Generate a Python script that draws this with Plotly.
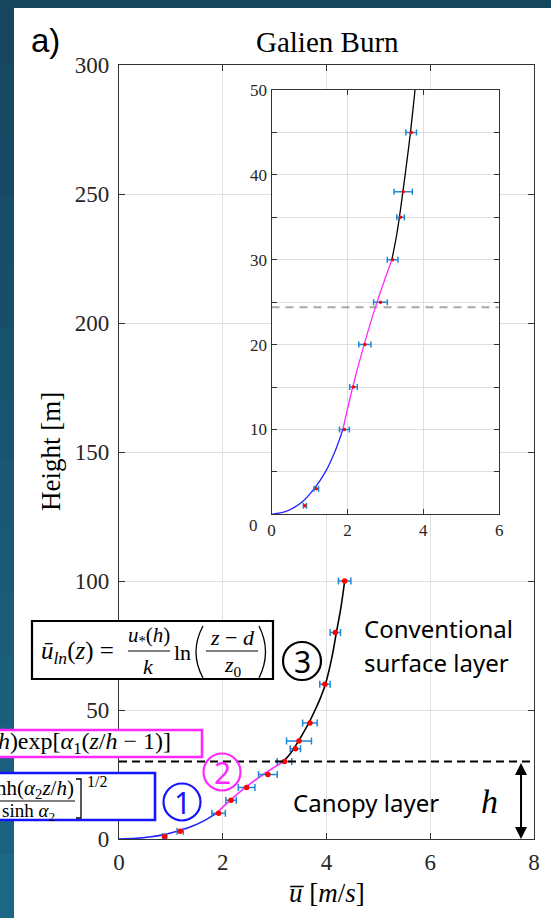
import plotly.graph_objects as go

# ---------------- data ----------------
obs_z = [1, 3, 10, 15, 20, 25, 30, 35, 38, 45, 60, 80, 100]
obs_u = [0.88, 1.18, 1.92, 2.16, 2.46, 2.87, 3.19, 3.40, 3.47, 3.68, 3.97, 4.17, 4.35]
obs_err = [0.04, 0.06, 0.13, 0.10, 0.16, 0.18, 0.14, 0.10, 0.24, 0.14, 0.10, 0.10, 0.12]

blue_z = [0, 0.25, 0.75, 1.5, 3, 5, 7.5, 10]
blue_u = [0, 0.32, 0.58, 0.82, 1.12, 1.42, 1.68, 1.88]
mag_z = [10, 15, 20, 25, 30]
mag_u = [1.88, 2.14, 2.44, 2.78, 3.17]
blk_z = [30, 33, 36, 40, 45, 50, 55, 60, 70, 80, 90, 100]
blk_u = [3.17, 3.30, 3.40, 3.52, 3.66, 3.78, 3.89, 3.98, 4.10, 4.19, 4.28, 4.35]

h_canopy = 30        # canopy height h
d_disp = 24.4        # displacement height shown in inset
arrow_u = 7.75

main_xticks = [0, 2, 4, 6, 8]
main_yticks = [0, 50, 100, 150, 200, 250, 300]
inset_xticks = [0, 2, 4, 6]
inset_yticks = [10, 20, 30, 40, 50]

# ---------------- geometry helpers ----------------
W, H = 551, 918
ML, MR, MT, MB = 119, 17, 65, 79
PW, PH = W - ML - MR, H - MT - MB


def px(x):
    return (x - ML) / PW


def py(y):
    return (H - MB - y) / PH


SERIF = "Liberation Serif, Times New Roman, serif"
SANS = "Noto Sans, Open Sans, sans-serif"
BLUE = "rgb(35,35,255)"
MAG = "rgb(255,40,255)"
EBAR = "rgb(30,136,214)"
TICKC = "#262626"

fig = go.Figure()

# main axes traces
for zs, us, col in [(blue_z, blue_u, BLUE), (mag_z, mag_u, MAG), (blk_z, blk_u, "black")]:
    fig.add_trace(go.Scatter(x=us, y=zs, mode="lines", line=dict(color=col, width=1.6, shape="spline"),
                             xaxis="x", yaxis="y", showlegend=False, hoverinfo="skip"))
fig.add_trace(go.Scatter(x=obs_u, y=obs_z, mode="markers",
                         marker=dict(color="red", size=5.5),
                         error_x=dict(type="data", array=obs_err, color=EBAR, thickness=1.5, width=3.5),
                         xaxis="x", yaxis="y", showlegend=False))
fig.add_trace(go.Scatter(x=[0, 8], y=[h_canopy, h_canopy], mode="lines",
                         line=dict(color="black", width=2, dash="8px,5px"),
                         xaxis="x", yaxis="y", showlegend=False, hoverinfo="skip"))

# inset traces
fig.add_trace(go.Scatter(x=[0, 6], y=[d_disp, d_disp], mode="lines",
                         line=dict(color="#a8a8a8", width=2, dash="8px,6px"),
                         xaxis="x2", yaxis="y2", showlegend=False, hoverinfo="skip"))
for zs, us, col in [(blue_z, blue_u, BLUE), (mag_z, mag_u, MAG), (blk_z, blk_u, "black")]:
    fig.add_trace(go.Scatter(x=us, y=zs, mode="lines", line=dict(color=col, width=1.3, shape="spline"),
                             xaxis="x2", yaxis="y2", showlegend=False, hoverinfo="skip"))
fig.add_trace(go.Scatter(x=obs_u, y=obs_z, mode="markers",
                         marker=dict(color="red", size=3.5),
                         error_x=dict(type="data", array=obs_err, color=EBAR, thickness=1.5, width=3),
                         xaxis="x2", yaxis="y2", showlegend=False))

axis_common = dict(showline=True, linecolor="#333333", linewidth=1.3, mirror="ticks",
                   ticks="inside", tickcolor="#333333", showgrid=True, gridcolor="#e0e0e0",
                   gridwidth=1, zeroline=False, tickfont=dict(family=SERIF, size=23, color=TICKC))

inset_common = dict(showline=True, linecolor="#333333", linewidth=1.3, mirror="ticks",
                    ticks="inside", tickcolor="#333333", ticklen=5, showgrid=True, gridcolor="#dedede",
                    gridwidth=1, zeroline=False, tickfont=dict(family=SERIF, size=17, color=TICKC))

fig.update_layout(
    width=W, height=H, autosize=False,
    margin=dict(l=ML, r=MR, t=MT, b=MB),
    paper_bgcolor="#174b64", plot_bgcolor="white",
    xaxis=dict(range=[0, 8], tickvals=main_xticks, ticklen=6, domain=[0, 1], anchor="y",
               ticklabelstandoff=2, **axis_common),
    yaxis=dict(range=[0, 300], tickvals=main_yticks, ticklen=6, domain=[0, 1], anchor="x",
               ticklabelstandoff=4, **axis_common),
    xaxis2=dict(range=[0, 6], tickvals=inset_xticks, domain=[px(271.5), px(499.3)], anchor="y2",
                **inset_common),
    yaxis2=dict(range=[0, 50], tickvals=inset_yticks, domain=[py(514.3), py(90)], anchor="x2",
                minor=dict(dtick=5, tick0=0, ticks="inside", ticklen=5, tickcolor="#333333",
                           showgrid=True, gridcolor="#dedede"),
                **inset_common),
    showlegend=False,
)

shapes = []
# teal background gradient bands
n_b = 14
c0, c1 = (22, 70, 94), (28, 102, 134)
for i in range(n_b):
    t = i / (n_b - 1)
    col = "rgb(%d,%d,%d)" % tuple(int(c0[k] + (c1[k] - c0[k]) * t) for k in range(3))
    shapes.append(dict(type="rect", xref="paper", yref="paper", layer="below",
                       x0=px(0), x1=px(W), y0=py(H * (i + 1) / n_b), y1=py(H * i / n_b),
                       fillcolor=col, line=dict(width=0)))
# white panel
shapes.append(dict(type="rect", xref="paper", yref="paper", layer="below",
                   x0=px(14), x1=px(W + 5), y0=py(H + 5), y1=py(8),
                   fillcolor="white", line=dict(width=0)))


def box(x0, y0, x1, y1, col, w=2.2):
    shapes.append(dict(type="rect", xref="paper", yref="paper", layer="above",
                       x0=px(x0), x1=px(x1), y0=py(y1), y1=py(y0),
                       fillcolor="white", line=dict(color=col, width=w)))


def hline(x0, x1, y, col="black", w=1.2):
    shapes.append(dict(type="line", xref="paper", yref="paper", layer="above",
                       x0=px(x0), x1=px(x1), y0=py(y), y1=py(y), line=dict(color=col, width=w)))


def path(points, col="black", w=1.3, quad=False):
    if quad:
        (a, b), (c, d), (e, f) = points
        s = "M %f,%f Q %f,%f %f,%f" % (px(a), py(b), px(c), py(d), px(e), py(f))
    else:
        s = "M " + " L ".join("%f,%f" % (px(a), py(b)) for a, b in points)
    shapes.append(dict(type="path", xref="paper", yref="paper", layer="above",
                       path=s, line=dict(color=col, width=w)))


def circle(cx, cy, r, col):
    shapes.append(dict(type="circle", xref="paper", yref="paper", layer="above",
                       x0=px(cx - r), x1=px(cx + r), y0=py(cy + r), y1=py(cy - r),
                       line=dict(color=col, width=2.2)))


# formula boxes
box(32, 621, 273, 679, "black")
hline(128, 170, 651)
hline(206, 258, 651)
path([(203, 626), (189, 652), (203, 678)], quad=True)
path([(259, 626), (272, 652), (259, 678)], quad=True)

box(-10, 730, 202, 757, MAG, 2.6)

box(-10, 773, 155, 820, "rgb(20,20,255)", 2.6)
hline(-5, 75, 801)
path([(76, 779), (81, 779), (81, 818), (76, 818)])

# circles
circle(182, 802, 18.5, "rgb(20,20,255)")
circle(222, 772, 18.5, MAG)
circle(302, 661, 19, "black")

fig.update_layout(shapes=shapes)

anns = []


def ann(text, x, y, size, color="black", family=SERIF, xanchor="center", yanchor="middle", angle=0):
    anns.append(dict(text=text, x=px(x), y=py(y), xref="paper", yref="paper", showarrow=False,
                     xanchor=xanchor, yanchor=yanchor, textangle=angle,
                     font=dict(family=family, size=size, color=color)))


ann("a)", 45, 40, 33, family="Liberation Sans, Arial, sans-serif")
ann("Galien Burn", 327, 42, 29)
ann("Height [m]", 51, 452, 27, angle=-90)
ann("<i>u̅</i> [<i>m</i>/<i>s</i>]", 327, 893, 27)
ann("0", 253, 525, 17, color=TICKC)

# formula 1
ann("<i>ū</i><sub><i>ln</i></sub>(<i>z</i>) =", 116, 652, 25, xanchor="right")
ann("<i>u</i><sub>*</sub>(<i>h</i>)", 149, 636, 21)
ann("<i>k</i>", 148, 666, 22)
ann("ln", 182, 652, 22)
ann("<i>z</i> − <i>d</i>", 232, 637, 22)
ann("<i>z</i><sub>0</sub>", 233, 666, 22)
# formula 2
ann("<i>ū</i>(<i>z</i>) = <i>ū</i>(<i>h</i>)exp[<i>α</i><sub>1</sub>(<i>z</i>/<i>h</i> − 1)]", 173, 743, 24,
    xanchor="right")
# formula 3
ann("sinh(<i>α</i><sub>2</sub><i>z</i>/<i>h</i>)", 76, 789, 21, xanchor="right")
ann("sinh <i>α</i><sub>2</sub>", 57, 812, 19, xanchor="right")
ann("1/2", 97, 781, 16)

# circled numbers
ann("1", 182, 802, 30, color="rgb(20,20,255)", family=SANS)
ann("2", 222, 772, 30, color=MAG, family=SANS)
ann("3", 302, 661, 30, family=SANS)

# layer labels
ann("Conventional", 362, 628, 24, family=SANS, xanchor="left")
ann("surface layer", 362, 662, 24, family=SANS, xanchor="left")
ann("Canopy layer", 366, 802, 24, family=SANS)
ann("<i>h</i>", 489, 801, 34)

# double arrow for canopy height
anns.append(dict(x=arrow_u, y=0, ax=arrow_u, ay=h_canopy, xref="x", yref="y", axref="x", ayref="y",
                 text="", showarrow=True, arrowhead=2, arrowside="end+start", arrowsize=1.2,
                 arrowwidth=2, arrowcolor="black", standoff=0, startstandoff=0))

fig.update_layout(annotations=anns)

fig.write_html("out.html", config={"displayModeBar": False},
               post_script="document.body.style.margin='0px';document.body.style.overflow='hidden';")
